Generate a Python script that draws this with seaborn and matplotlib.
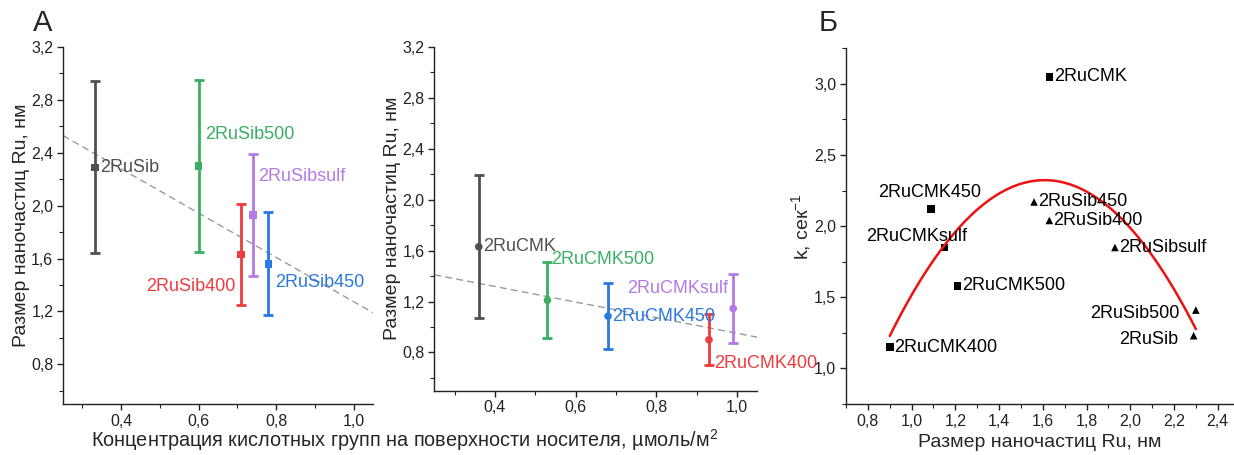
import numpy as np
import pandas as pd
import matplotlib
matplotlib.use('Agg')
import matplotlib.pyplot as plt
from matplotlib.ticker import MultipleLocator, FuncFormatter
import seaborn as sns

# Panel A, left: Ru/Sibunit samples
sib_names = ['2RuSib', '2RuSib500', '2RuSib400', '2RuSibsulf', '2RuSib450']
sib_conc = [0.333, 0.60, 0.71, 0.74, 0.78]
sib_size = [2.29, 2.30, 1.63, 1.93, 1.56]
sib_err = [0.65, 0.65, 0.38, 0.46, 0.39]
sib_trend_x = [0.25, 1.05]
sib_trend_y = [2.53, 1.19]

# Panel A, right: Ru/CMK samples
cmk_names = ['2RuCMK', '2RuCMK500', '2RuCMK450', '2RuCMK400', '2RuCMKsulf']
cmk_conc = [0.36, 0.53, 0.68, 0.93, 0.99]
cmk_size = [1.63, 1.21, 1.085, 0.90, 1.145]
cmk_err = [0.56, 0.30, 0.26, 0.20, 0.27]
cmk_trend_x = [0.25, 1.05]
cmk_trend_y = [1.41, 0.92]

# Panel B: rate constant vs particle size
k_names = ['2RuCMK', '2RuCMK450', '2RuCMKsulf', '2RuCMK500', '2RuCMK400',
           '2RuSib450', '2RuSib400', '2RuSibsulf', '2RuSib500', '2RuSib']
k_size = [1.63, 1.09, 1.15, 1.21, 0.90, 1.56, 1.63, 1.93, 2.30, 2.29]
k_rate = [3.05, 2.12, 1.85, 1.58, 1.15, 2.17, 2.04, 1.85, 1.41, 1.23]
k_support = ['CMK'] * 5 + ['Sib'] * 5

# colours by treatment
treat_colors = {'': '#505050', '500': '#3aaf64', '400': '#ee3b3f',
                'sulf': '#b37ae6', '450': '#2a78e0'}

def treat_of(name):
    for key in ['500', '400', '450', 'sulf']:
        if name.endswith(key):
            return key
    return ''

# label offsets in pixels: (dx, dy, ha)
sib_lab = {'2RuSib': (5, 0, 'left'), '2RuSib500': (6, 31, 'left'),
           '2RuSib400': (-6, -32, 'right'), '2RuSibsulf': (5, 38, 'left'),
           '2RuSib450': (7, -19, 'left')}
cmk_lab = {'2RuCMK': (4, 0, 'left'), '2RuCMK500': (4, 41, 'left'),
           '2RuCMK450': (4, 0, 'left'), '2RuCMK400': (5, -24, 'left'),
           '2RuCMKsulf': (-5, 20, 'right')}
k_lab = {'2RuCMK': (5, 0, 'left'), '2RuCMK450': (-2, 17, 'center'),
         '2RuCMKsulf': (-28, 11, 'center'), '2RuCMK500': (5, 0, 'left'),
         '2RuCMK400': (4, 0, 'left'), '2RuSib450': (4, 0, 'left'),
         '2RuSib400': (4, 0, 'left'), '2RuSibsulf': (4, 0, 'left'),
         '2RuSib500': (-16, -3, 'right'), '2RuSib': (-15, -4, 'right')}

sns.set_style('ticks')
plt.rcParams['font.family'] = ['Liberation Sans', 'DejaVu Sans']
plt.rcParams['mathtext.fontset'] = 'custom'
plt.rcParams['mathtext.rm'] = 'Liberation Sans'
plt.rcParams['mathtext.it'] = 'Liberation Sans:italic'
plt.rcParams['xtick.direction'] = 'out'
plt.rcParams['ytick.direction'] = 'out'

comma = FuncFormatter(lambda v, p: f'{v:.1f}'.replace('.', ','))

fig = plt.figure(figsize=(12.34, 4.55), dpi=100)
ax1 = fig.add_axes([0.0511, 0.1121, 0.2512, 0.7846])
ax2 = fig.add_axes([0.3520, 0.1413, 0.2618, 0.7560])
ax3 = fig.add_axes([0.6856, 0.1121, 0.3136, 0.7818])


def size_panel(ax, names, conc, size, err, tx, ty, labels, marker):
    df = pd.DataFrame({'name': names, 'conc': conc, 'size': size, 'err': err})
    df['treat'] = df['name'].map(treat_of)
    ax.plot(tx, ty, ls=(0, (5, 3)), color='#9a9a9a', lw=1)
    for _, r in df.iterrows():
        c = treat_colors[r['treat']]
        ax.errorbar(r['conc'], r['size'], yerr=r['err'], fmt='none', ecolor=c,
                    elinewidth=2, capsize=3.5, capthick=2)
    sns.scatterplot(data=df, x='conc', y='size', hue='treat', palette=treat_colors,
                    marker=marker, s=30, edgecolor='none', legend=False, ax=ax)
    for _, r in df.iterrows():
        dx, dy, ha = labels[r['name']]
        ax.annotate(r['name'], (r['conc'], r['size']), xytext=(dx, dy),
                    textcoords='offset pixels', ha=ha, va='center',
                    fontsize=13, color=treat_colors[r['treat']])
    ax.set_xlim(0.25, 1.05)
    ax.set_ylim(0.5, 3.2)
    ax.xaxis.set_major_locator(MultipleLocator(0.2))
    ax.xaxis.set_minor_locator(MultipleLocator(0.1))
    ax.yaxis.set_minor_locator(MultipleLocator(0.2))
    ax.set_yticks([0.8, 1.2, 1.6, 2.0, 2.4, 2.8, 3.2])
    ax.xaxis.set_major_formatter(comma)
    ax.yaxis.set_major_formatter(comma)
    ax.set_xlabel('')
    ax.set_ylabel('Размер наночастиц Ru, нм', fontsize=14, labelpad=1)


size_panel(ax1, sib_names, sib_conc, sib_size, sib_err, sib_trend_x, sib_trend_y, sib_lab, 's')
size_panel(ax2, cmk_names, cmk_conc, cmk_size, cmk_err, cmk_trend_x, cmk_trend_y, cmk_lab, 'o')

# Panel B
kdf = pd.DataFrame({'name': k_names, 'size': k_size, 'k': k_rate, 'support': k_support})
sns.regplot(data=kdf, x='size', y='k', order=2, ci=None, scatter=False,
            line_kws={'color': '#ee1111', 'lw': 1.8}, ax=ax3)
sns.scatterplot(data=kdf, x='size', y='k', style='support',
                markers={'CMK': 's', 'Sib': '^'}, color='black', s=30,
                edgecolor='none', legend=False, ax=ax3)
for _, r in kdf.iterrows():
    dx, dy, ha = k_lab[r['name']]
    ax3.annotate(r['name'], (r['size'], r['k']), xytext=(dx, dy),
                 textcoords='offset pixels', ha=ha, va='center',
                 fontsize=13, color='black')
ax3.set_xlim(0.7, 2.47)
ax3.set_ylim(0.75, 3.25)
ax3.set_xticks([0.8, 1.0, 1.2, 1.4, 1.6, 1.8, 2.0, 2.2, 2.4])
ax3.xaxis.set_minor_locator(MultipleLocator(0.1))
ax3.set_yticks([1.0, 1.5, 2.0, 2.5, 3.0])
ax3.yaxis.set_minor_locator(MultipleLocator(0.25))
ax3.xaxis.set_major_formatter(comma)
ax3.yaxis.set_major_formatter(comma)
ax3.set_xlabel('Размер наночастиц Ru, нм', fontsize=14, labelpad=4)
ax3.set_ylabel('k, сек$^{-1}$', fontsize=14, labelpad=1)

for ax in (ax1, ax2, ax3):
    sns.despine(ax=ax)
    for sp in ('left', 'bottom'):
        ax.spines[sp].set_linewidth(1)
        ax.spines[sp].set_color('#222222')
    ax.tick_params(which='major', length=4, width=1, labelsize=11.5, color='#222222',
                   labelcolor='#222222', pad=3)
    ax.tick_params(which='minor', length=3, width=0.8, color='#222222')

fig.text(0.328, 0.033, 'Концентрация кислотных групп на поверхности носителя, µмоль/м$^2$',
         ha='center', va='center', fontsize=14.3)
fig.text(0.027, 0.95, 'А', fontsize=21, ha='left', va='center')
fig.text(0.663, 0.95, 'Б', fontsize=21, ha='left', va='center')

fig.savefig('out.png', dpi=100)
